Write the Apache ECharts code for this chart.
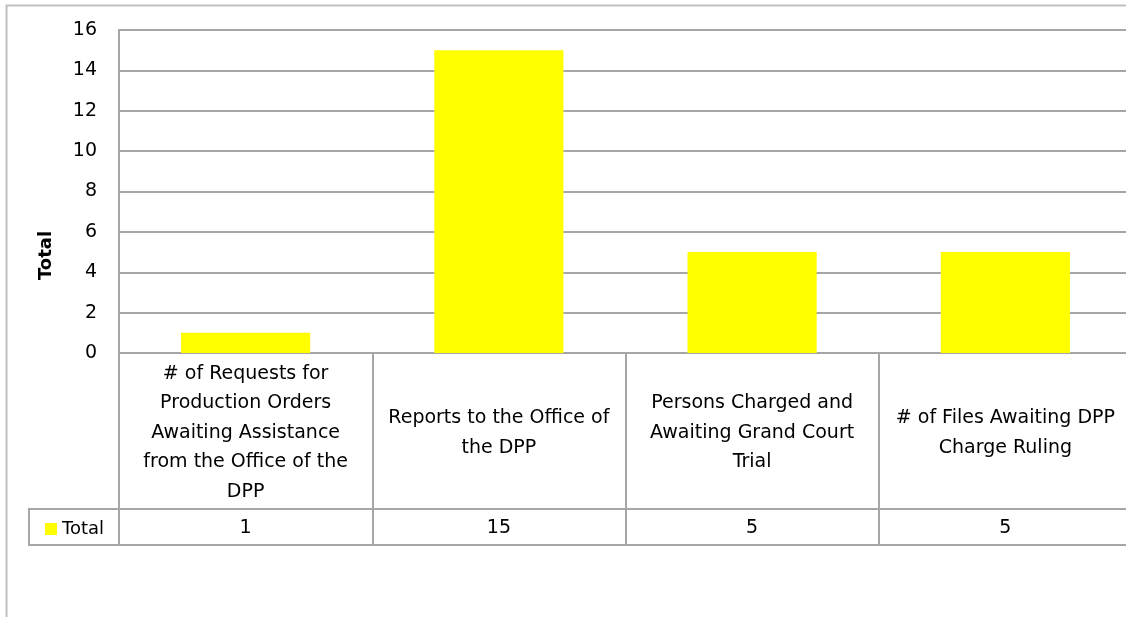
<!DOCTYPE html>
<html>
<head>
<meta charset="utf-8">
<script src="https://cdn.jsdelivr.net/npm/echarts@6/dist/echarts.min.js"></script>
<style>
  html, body { margin: 0; padding: 0; background: #fff; }
  #main { width: 1126px; height: 617px; }
</style>
</head>
<body>
<div id="main"></div>
<script>
// data
var categories = [
  '# of Requests for Production Orders Awaiting Assistance from the Office of the DPP',
  'Reports to the Office of the DPP',
  'Persons Charged and Awaiting Grand Court Trial',
  '# of Files Awaiting DPP Charge Ruling'
];
var tickLabels = [
  '# of Requests for\nProduction Orders\nAwaiting Assistance\nfrom the Office of the\nDPP',
  'Reports to the Office of\nthe DPP',
  'Persons Charged and\nAwaiting Grand Court\nTrial',
  '# of Files Awaiting DPP\nCharge Ruling'
];
var totals = [1, 15, 5, 5];
var yTicks = [0, 2, 4, 6, 8, 10, 12, 14, 16];

var lineColor = '#a6a6a6';
var font = 'DejaVu Sans';
var fs = 19;

var chart = echarts.init(document.getElementById('main'));

var option = {
  backgroundColor: '#fff',
  animation: false,
  textStyle: { fontFamily: font },
  grid: { left: 119, top: 30, height: 323, width: 1013, outerBoundsMode: 'none', containLabel: false },
  legend: {
    data: ['Total'],
    left: 40,
    top: 515,
    icon: 'rect',
    itemWidth: 12,
    itemHeight: 12,
    itemGap: 5,
    textStyle: { fontSize: 18, color: '#000', fontFamily: font }
  },
  graphic: [
    // outer chart frame
    { type: 'rect', shape: { x: 6.5, y: 5.5, width: 1200, height: 700 },
      style: { fill: 'none', stroke: '#c0c0c0', lineWidth: 2 }, silent: true, z: -1 },
    // legend cell of the data table
    { type: 'rect', shape: { x: 29, y: 509, width: 90, height: 36 },
      style: { fill: 'none', stroke: lineColor, lineWidth: 2 }, silent: true }
  ],
  xAxis: [
    {
      type: 'category',
      data: categories,
      position: 'bottom',
      axisLine: { show: true, lineStyle: { color: lineColor, width: 2 } },
      axisTick: { show: true, length: 192, interval: 0, alignWithLabel: false,
                  lineStyle: { color: lineColor, width: 2 } },
      axisLabel: {
        interval: 0,
        margin: 80,
        verticalAlign: 'middle',
        lineHeight: 29.5,
        fontSize: fs,
        color: '#000',
        fontFamily: font,
        formatter: function (v, i) { return tickLabels[i]; }
      }
    },
    {
      type: 'category',
      data: categories,
      position: 'bottom',
      offset: 156,
      axisLine: { show: true, lineStyle: { color: lineColor, width: 2 } },
      axisTick: { show: false },
      axisLabel: {
        interval: 0,
        margin: 19,
        verticalAlign: 'middle',
        fontSize: fs,
        color: '#000',
        fontFamily: font,
        formatter: function (v, i) { return String(totals[i]); }
      }
    },
    {
      type: 'category',
      data: categories,
      position: 'bottom',
      offset: 192,
      axisLine: { show: true, lineStyle: { color: lineColor, width: 2 } },
      axisTick: { show: false },
      axisLabel: { show: false }
    }
  ],
  yAxis: {
    type: 'value',
    min: yTicks[0],
    max: yTicks[yTicks.length - 1],
    interval: 2,
    name: 'Total',
    nameLocation: 'middle',
    nameGap: 64,
    nameRotate: 90,
    nameTextStyle: { fontSize: 18, fontWeight: 'bold', color: '#000', fontFamily: font,
                     padding: [0, 128, 0, 0] },
    axisLine: { show: true, lineStyle: { color: lineColor, width: 2 } },
    axisTick: { show: false },
    axisLabel: { margin: 22, fontSize: fs, color: '#000', fontFamily: font },
    splitLine: { show: true, lineStyle: { color: lineColor, width: 2 } }
  },
  series: [
    {
      name: 'Total',
      type: 'bar',
      xAxisIndex: 0,
      data: totals,
      barWidth: '51%',
      itemStyle: { color: '#ffff00' }
    }
  ]
};

chart.setOption(option);
</script>
</body>
</html>
